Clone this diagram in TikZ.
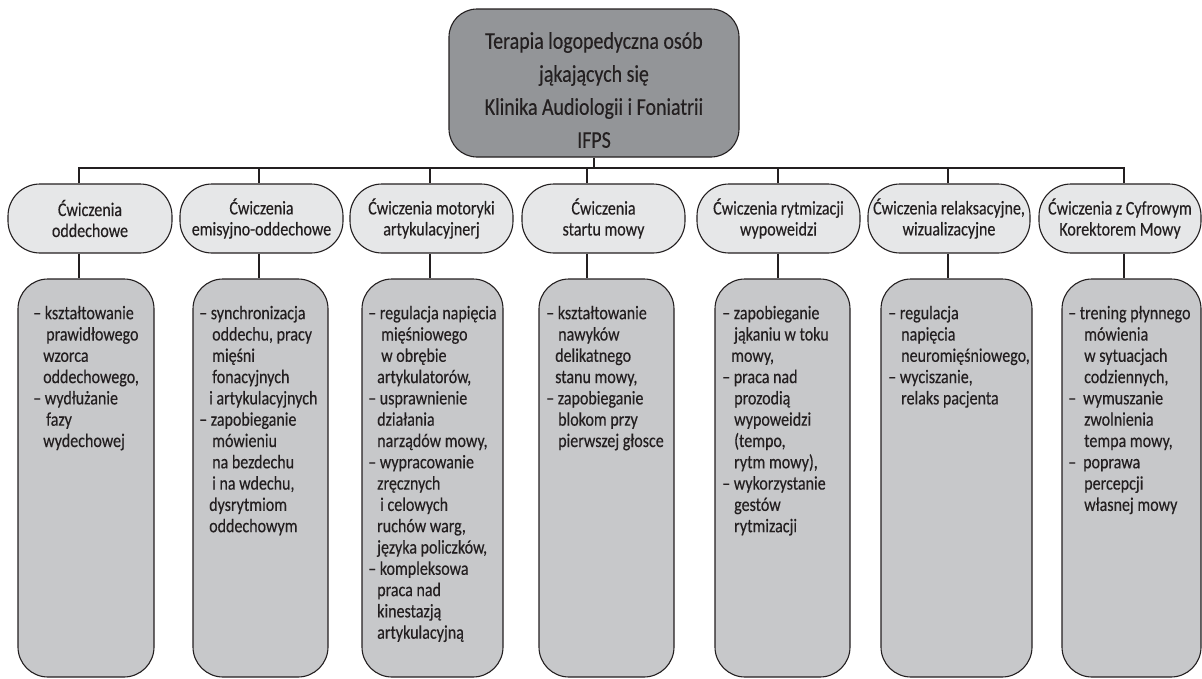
\documentclass[tikz,border=0pt]{standalone}
\usepackage{fontspec}
\setmainfont{Carlito}[FakeStretch=0.83,FakeBold=0.3]
\definecolor{topfill}{HTML}{939598}
\definecolor{pillfill}{HTML}{E6E7E8}
\definecolor{boxfill}{HTML}{C7C8CA}
\definecolor{edgecol}{HTML}{231F20}
\newcommand{\myin}[1]{\hspace*{#1pt}}
\newcommand{\myfirst}{\rule{0pt}{14.5pt}}
\begin{document}
\begin{tikzpicture}[x=1pt,y=-1pt,
  topbox/.style={draw=edgecol, line width=1.1pt, fill=topfill, rounded corners=28pt, minimum width=290pt, minimum height=148pt, inner sep=0pt},
  pill/.style={draw=edgecol, line width=1.1pt, fill=pillfill, rounded corners=32pt, minimum height=69pt, inner sep=0pt, align=center, text=edgecol, font=\fontsize{19.3}{21}\selectfont},
  lbox/.style={draw=edgecol, line width=1.1pt, fill=boxfill, rounded corners=30pt, minimum height=398pt, inner sep=0pt},
  ltext/.style={anchor=north west, inner sep=0pt, align=left, text=edgecol, font=\fontsize{19.3}{21.3}\selectfont},
  toptext/.style={inner sep=0pt, align=center, text=edgecol, font=\fontsize{24}{33}\selectfont},
  conn/.style={draw=edgecol, line width=1.1pt}]
\useasboundingbox (0,0) rectangle (1202,678);

% top node
\node[topbox] (top) at (594,83) {};
\node[toptext] (toptxt) at (594,90) {Terapia logopedyczna osób\\jąkających się\\Klinika Audiologii i Foniatrii\\IFPS};

% second level
\node[pill, minimum width=164pt] (p1) at (90,218.5) {Ćwiczenia\\oddechowe};
\node[pill, minimum width=163pt] (p2) at (261.5,218.5) {Ćwiczenia\\emisyjno-oddechowe};
\node[pill, minimum width=163pt] (p3) at (431.5,218.5) {Ćwiczenia motoryki\\artykulacyjnerj};
\node[pill, minimum width=163pt] (p4) at (603.5,218.5) {Ćwiczenia\\startu mowy};
\node[pill, minimum width=163pt] (p5) at (778.5,218.5) {Ćwiczenia rytmizacji\\wypoweidzi};
\node[pill, minimum width=162pt] (p6) at (949,218.5) {Ćwiczenia relaksacyjne,\\wizualizacyjne};
\node[pill, minimum width=162pt] (p7) at (1120,218.5) {Ćwiczenia z Cyfrowym\\Korektorem Mowy};

% third level boxes
\node[lbox, minimum width=136pt] (b1) at (86,478) {};
\node[lbox, minimum width=135pt] (b2) at (260.5,478) {};
\node[lbox, minimum width=141pt] (b3) at (432.5,478) {};
\node[lbox, minimum width=135pt] (b4) at (606.5,478) {};
\node[lbox, minimum width=135pt] (b5) at (782.5,478) {};
\node[lbox, minimum width=151pt] (b6) at (956.5,478) {};
\node[lbox, minimum width=139pt] (b7) at (1131.5,478) {};

% texts
\node[ltext] (t1) at (33,304.5) {\myfirst – kształtowanie\\\myin{13}prawidłowego\\\myin{10}wzorca\\\myin{10}oddechowego,\\– wydłużanie\\\myin{13}fazy\\\myin{10}wydechowej};
\node[ltext] (t2) at (199,304.5) {\myfirst – synchronizacja\\\myin{13}oddechu, pracy\\\myin{13}mięśni\\\myin{13}fonacyjnych\\\myin{10}i artykulacyjnych\\– zapobieganie\\\myin{13}mówieniu\\\myin{13}na bezdechu\\\myin{13}i na wdechu,\\\myin{10}dysrytmiom\\\myin{10}oddechowym};
\node[ltext] (t3) at (368,304.5) {\myfirst – regulacja napięcia\\\myin{13}mięśniowego\\\myin{13}w obrębie\\\myin{9}artykulatorów,\\– usprawnienie\\\myin{9}działania\\\myin{9}narządów mowy,\\– wypracowanie\\\myin{9}zręcznych\\\myin{12}i celowych\\\myin{9}ruchów warg,\\\myin{9}języka policzków,\\– kompleksowa\\\myin{9}praca nad\\\myin{9}kinestazją\\\myin{9}artykulacyjną};
\node[ltext] (t4) at (546,304.5) {\myfirst – kształtowanie\\\myin{12}nawyków\\\myin{9}delikatnego\\\myin{9}stanu mowy,\\– zapobieganie\\\myin{12}blokom przy\\\myin{12}pierwszej głosce};
\node[ltext] (t5) at (722,304.5) {\myfirst – zapobieganie\\\myin{12}jąkaniu w toku\\\myin{9}mowy,\\– praca nad\\\myin{12}prozodią\\\myin{12}wypoweidzi\\\myin{12}(tempo,\\\myin{12}rytm mowy),\\– wykorzystanie\\\myin{12}gestów\\\myin{12}rytmizacji};
\node[ltext] (t6) at (888,304.5) {\myfirst – regulacja\\\myin{13}napięcia\\\myin{13}neuromięśniowego,\\– wyciszanie,\\\myin{13}relaks pacjenta};
\node[ltext] (t7) at (1068,304.5) {\myfirst – trening płynnego\\\myin{16}mówienia\\\myin{16}w sytuacjach\\\myin{16}codziennych,\\–\myin{7}wymuszanie\\\myin{16}zwolnienia\\\myin{16}tempa mowy,\\–\myin{7}poprawa\\\myin{16}percepcji\\\myin{16}własnej mowy};

% connector coordinates on the bus line
\coordinate (h1) at (79,168);
\coordinate (h2) at (259,168);
\coordinate (h3) at (430,168);
\coordinate (h4) at (587,168);
\coordinate (h5) at (778,168);
\coordinate (h6) at (948,168);
\coordinate (h7) at (1124,168);

% connectors
\draw[conn] (top.south) -- (top.south |- h1);
\draw[conn] (h1 |- p1.north) -- (h1) -- (h7) -- (h7 |- p7.north);
\draw[conn] (h2) -- (h2 |- p2.north);
\draw[conn] (h3) -- (h3 |- p3.north);
\draw[conn] (h4) -- (h4 |- p4.north);
\draw[conn] (h5) -- (h5 |- p5.north);
\draw[conn] (h6) -- (h6 |- p6.north);
\draw[conn] (h1 |- p1.south) -- (h1 |- b1.north);
\draw[conn] (h2 |- p2.south) -- (h2 |- b2.north);
\draw[conn] (h3 |- p3.south) -- (h3 |- b3.north);
\draw[conn] (h4 |- p4.south) -- (h4 |- b4.north);
\draw[conn] (h5 |- p5.south) -- (h5 |- b5.north);
\draw[conn] (h6 |- p6.south) -- (h6 |- b6.north);
\draw[conn] (h7 |- p7.south) -- (h7 |- b7.north);
\end{tikzpicture}
\end{document}
